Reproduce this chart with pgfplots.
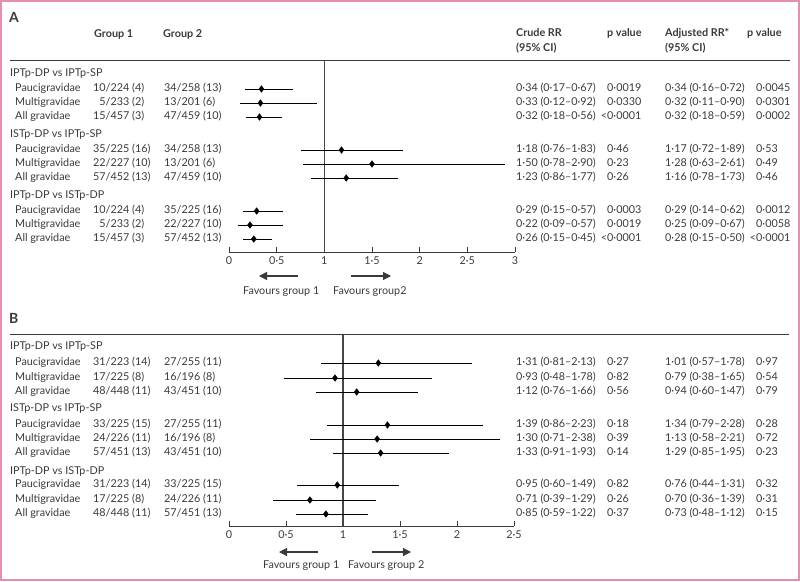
\documentclass[border=0pt]{standalone}
\usepackage{fontspec}
\setmainfont{Lato}
\usepackage{pgfplots}
\usepackage{pgfplotstable}
\pgfplotsset{compat=1.18}
\usetikzlibrary{arrows.meta}
\definecolor{txt}{HTML}{3A3A3A}
\definecolor{frm}{HTML}{E58FB0}

% y = row position (pixels from top), rr = crude RR, lo/hi = 95% CI
\pgfplotstableread{
y rr lo hi
89 0.34 0.17 0.67
103 0.33 0.12 0.92
117 0.32 0.18 0.56
150 1.18 0.76 1.83
164 1.50 0.78 2.90
178 1.23 0.86 1.77
211 0.29 0.15 0.57
225 0.22 0.09 0.57
239 0.26 0.15 0.45
}\dataA

\pgfplotstableread{
y rr lo hi
363 1.31 0.81 2.13
378 0.93 0.48 1.78
392 1.12 0.76 1.66
425 1.39 0.86 2.23
439 1.30 0.71 2.38
453 1.33 0.91 1.93
485 0.95 0.60 1.49
500 0.71 0.39 1.29
514 0.85 0.59 1.22
}\dataB

\pgfplotsset{forest/.style={
  scale only axis, clip=false, y dir=reverse,
  axis x line*=bottom, axis y line=none,
  axis line style={-, draw=txt, line width=0.8pt},
  tick align=inside, major tick length=5pt,
  tick style={draw=txt, line width=0.8pt},
  x tick label style={font=\fontsize{10.8}{12}\selectfont, text=txt, yshift=-1pt},
}}
\pgfplotsset{fp/.style={only marks, mark=diamond*, mark size=3.3pt,
  mark options={fill=black, draw=black},
  error bars/.cd, x dir=both, x explicit, error mark=none,
  error bar style={line width=0.9pt, draw=black}}}

\newcommand\row[8]{%
  \node[T] at (15,#1) {#2};
  \node[T] at (93,#1) {#3};
  \node[T] at (164,#1) {#4};
  \node[T] at (516,#1) {#5};
  \node[T] at (607,#1) {#6};
  \node[T] at (665,#1) {#7};
  \node[T] at (756,#1) {#8};}

\begin{document}
\begin{tikzpicture}[font=\fontsize{10.8}{12}\selectfont]
\path[use as bounding box] (0pt,0pt) rectangle (800pt,-581pt);
\draw[frm, line width=1.6pt] (0.8pt,-0.8pt) rectangle (799.2pt,-580.2pt);

% ---------- Panel A axis ----------
\begin{axis}[forest, at={(229pt,-252pt)}, anchor=south west,
  width=286pt, height=192pt, xmin=0, xmax=3, ymin=60, ymax=252,
  xtick={0,0.5,1,1.5,2,2.5,3}, xticklabels={0,0·5,1,1·5,2,2·5,3}]
\addplot[gray!55!black, line width=1.2pt] coordinates {(1,60) (1,252)};
\addplot[fp] table[x=rr, y=y, x error plus expr=\thisrow{hi}-\thisrow{rr},
  x error minus expr=\thisrow{rr}-\thisrow{lo}] {\dataA};
\end{axis}

% ---------- Panel B axis ----------
\begin{axis}[forest, at={(229pt,-526pt)}, anchor=south west,
  width=285pt, height=192pt, xmin=0, xmax=2.5, ymin=334, ymax=526,
  xtick={0,0.5,1,1.5,2,2.5}, xticklabels={0,0·5,1,1·5,2,2·5}]
\addplot[gray!55!black, line width=1.2pt] coordinates {(1,334) (1,526)};
\addplot[fp] table[x=rr, y=y, x error plus expr=\thisrow{hi}-\thisrow{rr},
  x error minus expr=\thisrow{rr}-\thisrow{lo}] {\dataB};
\end{axis}

\begin{scope}[x=1pt, y=-1pt, T/.style={anchor=west, inner sep=0pt, text=txt, text height=8pt, text depth=2.5pt},
  H/.style={T, font=\fontsize{10.8}{12}\selectfont\bfseries}]
% Panel A header
\node[anchor=west, inner sep=0pt, text=txt, font=\fontsize{14}{15}\selectfont\bfseries] at (9,17) {A};
\node[H] at (94,35) {Group 1};
\node[H] at (163,35) {Group 2};
\node[H] at (516,34) {Crude RR};
\node[H] at (516,49) {(95\% CI)};
\node[H] at (607,34) {p value};
\node[H] at (665,34) {Adjusted RR*};
\node[H] at (665,49) {(95\% CI)};
\node[H] at (747,34) {p value};
\draw[txt, line width=0.9pt] (10,60) -- (790,60);

\node[T] at (10,74) {IPTp-DP vs IPTp-SP};
\row{89}{Paucigravidae}{10/224 (4)}{34/258 (13)}{0·34 (0·17–0·67)}{0·0019}{0·34 (0·16–0·72)}{0·0045}
\row{103}{Multigravidae}{\phantom{1}5/233 (2)}{13/201 (6)}{0·33 (0·12–0·92)}{0·0330}{0·32 (0·11–0·90)}{0·0301}
\row{117}{All gravidae}{15/457 (3)}{47/459 (10)}{0·32 (0·18–0·56)}{\llap{<}0·0001}{0·32 (0·18–0·59)}{0·0002}
\node[T] at (10,135) {ISTp-DP vs IPTp-SP};
\row{150}{Paucigravidae}{35/225 (16)}{34/258 (13)}{1·18 (0·76–1·83)}{0·46}{1·17 (0·72–1·89)}{0·53}
\row{164}{Multigravidae}{22/227 (10)}{13/201 (6)}{1·50 (0·78–2·90)}{0·23}{1·28 (0·63–2·61)}{0·49}
\row{178}{All gravidae}{57/452 (13)}{47/459 (10)}{1·23 (0·86–1·77)}{0·26}{1·16 (0·78–1·73)}{0·46}
\node[T] at (10,196) {IPTp-DP vs ISTp-DP};
\row{211}{Paucigravidae}{10/224 (4)}{35/225 (16)}{0·29 (0·15–0·57)}{0·0003}{0·29 (0·14–0·62)}{0·0012}
\row{225}{Multigravidae}{\phantom{1}5/233 (2)}{22/227 (10)}{0·22 (0·09–0·57)}{0·0019}{0·25 (0·09–0·67)}{0·0058}
\row{239}{All gravidae}{15/457 (3)}{57/452 (13)}{0·26 (0·15–0·45)}{\llap{<}0·0001}{0·28 (0·15–0·50)}{\llap{<}0·0001}

\draw[txt, line width=1.2pt, -{Triangle[length=8pt,width=8pt]}] (298,276) -- (259,276);
\draw[txt, line width=1.2pt, -{Triangle[length=8pt,width=8pt]}] (351,276) -- (391,276);
\node[T] at (243,292) {Favours group 1};
\node[T] at (333,292) {Favours group2};

% Panel B
\node[anchor=west, inner sep=0pt, text=txt, font=\fontsize{14}{15}\selectfont\bfseries] at (9,318) {B};
\draw[txt, line width=0.9pt] (10,334) -- (789,334);
\node[T] at (10,347) {IPTp-DP vs IPTp-SP};
\row{363}{Paucigravidae}{31/223 (14)}{27/255 (11)}{1·31 (0·81–2·13)}{0·27}{1·01 (0·57–1·78)}{0·97}
\row{378}{Multigravidae}{17/225 (8)}{16/196 (8)}{0·93 (0·48–1·78)}{0·82}{0·79 (0·38–1·65)}{0·54}
\row{392}{All gravidae}{48/448 (11)}{43/451 (10)}{1·12 (0·76–1·66)}{0·56}{0·94 (0·60–1·47)}{0·79}
\node[T] at (10,409) {ISTp-DP vs IPTp-SP};
\row{425}{Paucigravidae}{33/225 (15)}{27/255 (11)}{1·39 (0·86–2·23)}{0·18}{1·34 (0·79–2·28)}{0·28}
\row{439}{Multigravidae}{24/226 (11)}{16/196 (8)}{1·30 (0·71–2·38)}{0·39}{1·13 (0·58–2·21)}{0·72}
\row{453}{All gravidae}{57/451 (13)}{43/451 (10)}{1·33 (0·91–1·93)}{0·14}{1·29 (0·85–1·95)}{0·23}
\node[T] at (10,472) {IPTp-DP vs ISTp-DP};
\row{485}{Paucigravidae}{31/223 (14)}{33/225 (15)}{0·95 (0·60–1·49)}{0·82}{0·76 (0·44–1·31)}{0·32}
\row{500}{Multigravidae}{17/225 (8)}{24/226 (11)}{0·71 (0·39–1·29)}{0·26}{0·70 (0·36–1·39)}{0·31}
\row{514}{All gravidae}{48/448 (11)}{57/451 (13)}{0·85 (0·59–1·22)}{0·37}{0·73 (0·48–1·12)}{0·15}

\draw[txt, line width=1.2pt, -{Triangle[length=8pt,width=8pt]}] (318,552) -- (279,552);
\draw[txt, line width=1.2pt, -{Triangle[length=8pt,width=8pt]}] (372,552) -- (411,552);
\node[T] at (263,566) {Favours group 1};
\node[T] at (348,566) {Favours group 2};
\end{scope}
\end{tikzpicture}
\end{document}
